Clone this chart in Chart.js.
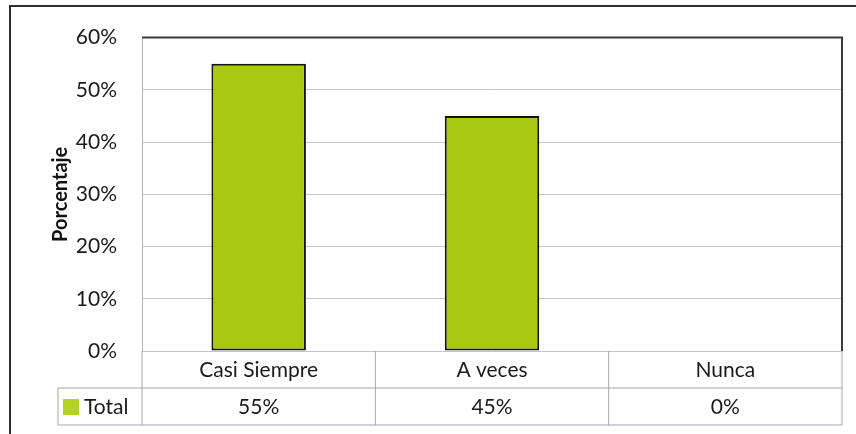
<!DOCTYPE html>
<html>
<head>
<meta charset="utf-8">
<script src="https://cdn.jsdelivr.net/npm/chart.js@4.4.1/dist/chart.umd.min.js"></script>
<style>
  html, body { margin: 0; padding: 0; background: #fff; }
</style>
</head>
<body>
<canvas id="chart" width="856" height="434"></canvas>
<script>
const categories = ['Casi Siempre', 'A veces', 'Nunca'];
const totals = [55, 45, 0];
const yTicks = [0, 10, 20, 30, 40, 50, 60];
const seriesName = 'Total';

const barColor = '#a8c814';
const fontFamily = 'Lato, "Open Sans", sans-serif';

// frame, plot border and the data table under the bars
const tablePlugin = {
    id: 'dataTable',
    afterDraw(chart) {
        const ctx = chart.ctx;
        const {left, right, top, bottom} = chart.chartArea;
        const x = chart.scales.x;
        const rowH = 37;
        const legendLeft = 58;
        const half = (right - left) / categories.length / 2;

        ctx.save();

        // outer frame (only top and left show)
        ctx.strokeStyle = '#2e2e2e';
        ctx.lineWidth = 2;
        ctx.beginPath();
        ctx.moveTo(10, 434);
        ctx.lineTo(10, 6);
        ctx.lineTo(856, 6);
        ctx.stroke();

        // dark top/right plot border
        ctx.strokeStyle = '#3a3a3a';
        ctx.lineWidth = 2;
        ctx.beginPath();
        ctx.moveTo(left, top);
        ctx.lineTo(right, top);
        ctx.lineTo(right, bottom);
        ctx.stroke();

        // table grid
        ctx.strokeStyle = '#a6a6ae';
        ctx.lineWidth = 1;
        ctx.beginPath();
        ctx.moveTo(legendLeft, bottom + rowH);
        ctx.lineTo(right, bottom + rowH);
        ctx.moveTo(legendLeft, bottom + rowH * 2);
        ctx.lineTo(right, bottom + rowH * 2);
        ctx.moveTo(legendLeft, bottom + rowH);
        ctx.lineTo(legendLeft, bottom + rowH * 2);
        categories.forEach((c, i) => {
            const cx = x.getPixelForValue(i);
            ctx.moveTo(cx - half, bottom);
            ctx.lineTo(cx - half, bottom + rowH * 2);
        });
        ctx.moveTo(right, bottom);
        ctx.lineTo(right, bottom + rowH * 2);
        ctx.stroke();

        // category and value rows
        ctx.fillStyle = '#1a1a1a';
        ctx.font = '21px ' + fontFamily;
        ctx.textAlign = 'center';
        ctx.textBaseline = 'middle';
        categories.forEach((c, i) => {
            const cx = x.getPixelForValue(i);
            ctx.fillText(c, cx, bottom + rowH / 2 + 1);
            ctx.fillText(totals[i] + '%', cx, bottom + rowH * 1.5 + 1);
        });

        // legend key
        ctx.fillStyle = '#b2d424';
        ctx.fillRect(63, bottom + rowH + 11, 16, 16);
        ctx.fillStyle = '#1a1a1a';
        ctx.textAlign = 'left';
        ctx.fillText(seriesName, 84, bottom + rowH * 1.5 + 1);

        ctx.restore();
    }
};

new Chart(document.getElementById('chart'), {
    type: 'bar',
    data: {
        labels: categories,
        datasets: [{
            label: seriesName,
            data: totals,
            backgroundColor: barColor,
            borderColor: '#141414',
            borderWidth: 2,
            borderSkipped: false,
            barPercentage: 0.405,
            categoryPercentage: 1
        }]
    },
    options: {
        responsive: false,
        animation: false,
        layout: {
            padding: {left: 45, top: 33, right: 14, bottom: 83}
        },
        plugins: {
            legend: {display: false},
            tooltip: {enabled: false}
        },
        scales: {
            x: {
                display: false
            },
            y: {
                min: 0,
                max: 60,
                afterBuildTicks: s => { s.ticks = yTicks.map(v => ({value: v})); },
                afterFit: s => { s.width = 97; },
                ticks: {
                    padding: 25,
                    color: '#1a1a1a',
                    font: {family: fontFamily, size: 21},
                    callback: v => v + '%'
                },
                grid: {
                    color: '#c4c4cc',
                    lineWidth: 1,
                    drawTicks: false
                },
                border: {color: '#b4b4bc'},
                title: {
                    display: true,
                    text: 'Porcentaje',
                    color: '#111',
                    font: {family: fontFamily, size: 20, weight: 'bold'}
                }
            }
        }
    },
    plugins: [tablePlugin]
});
</script>
</body>
</html>
